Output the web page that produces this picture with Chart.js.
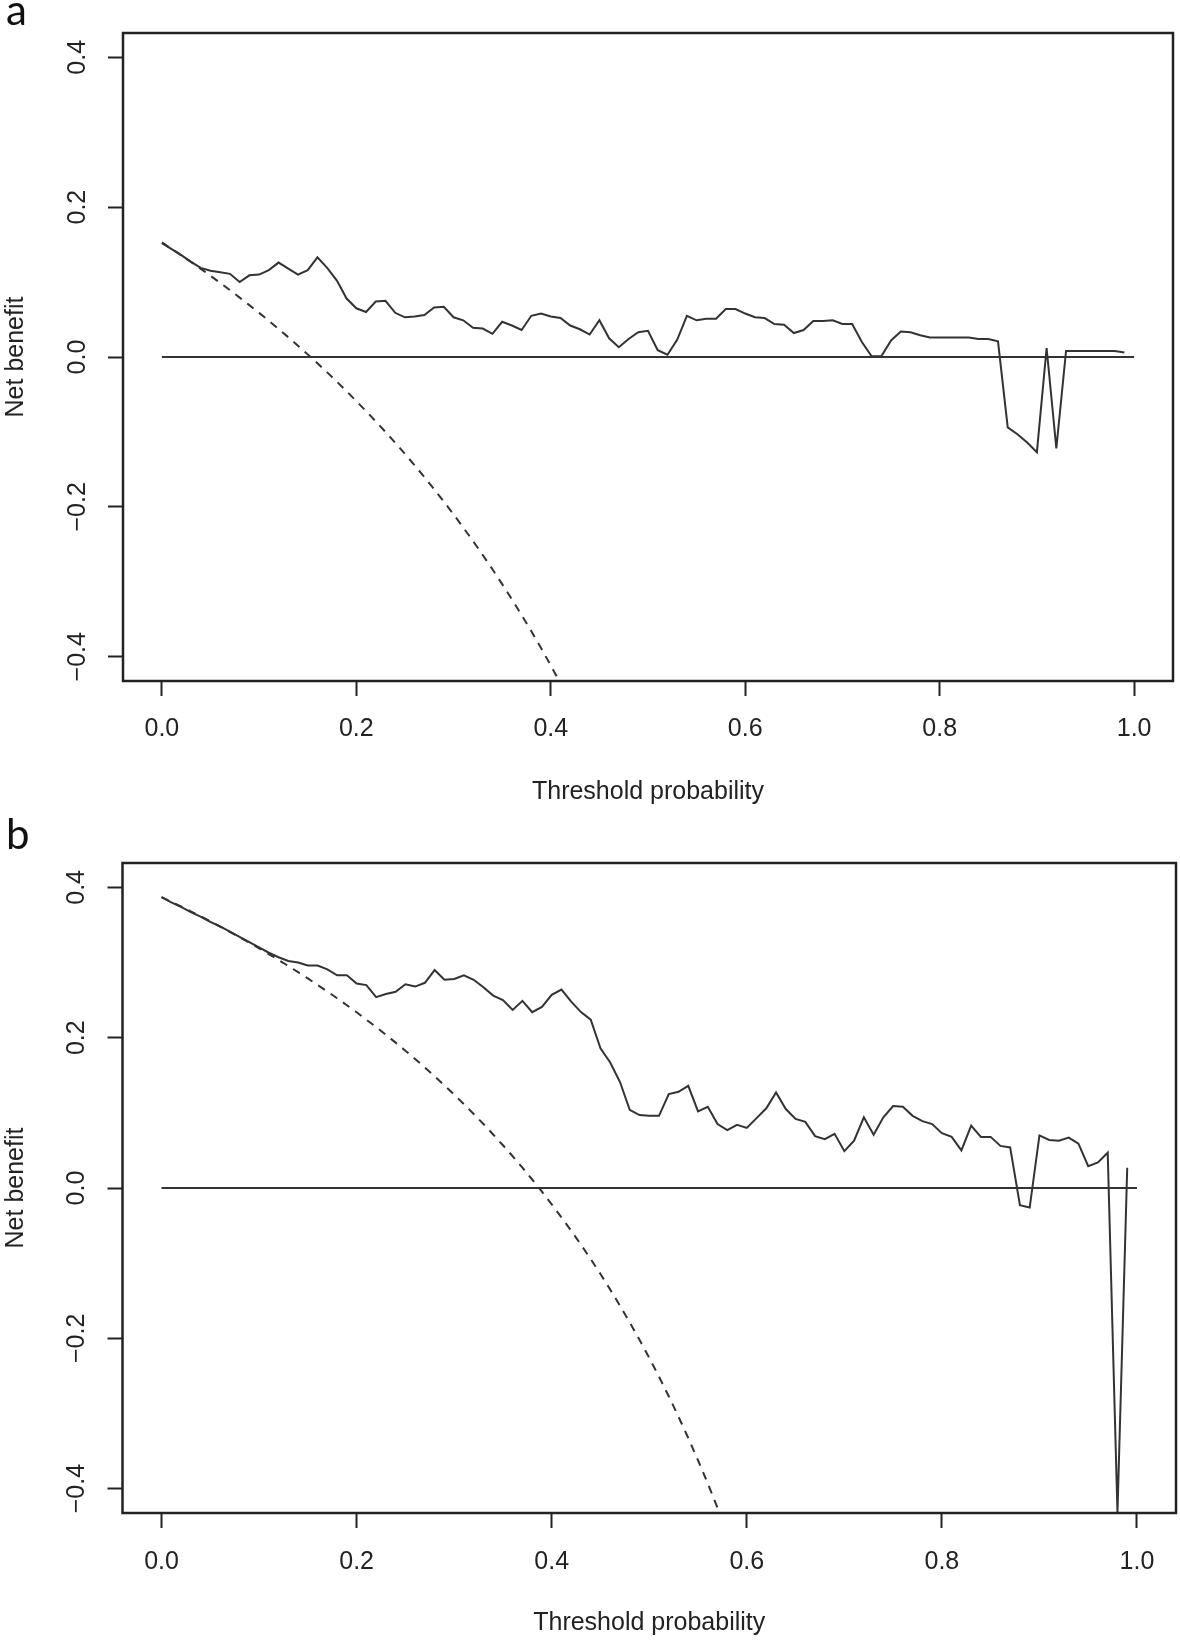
<!DOCTYPE html>
<html>
<head>
<meta charset="utf-8">
<script src="https://cdn.jsdelivr.net/npm/chart.js@4.4.1/dist/chart.umd.min.js"></script>
<style>
  html, body { margin: 0; padding: 0; background: #fff; }
  body { width: 1180px; height: 1641px; position: relative; overflow: hidden; }
  .panel { position: absolute; left: 0; }
  .tag { position: absolute; left: 6px; font-family: Lato, "Open Sans", sans-serif; font-size: 42px; line-height: 42px; color: #111; z-index: 2; }
</style>
</head>
<body>
<div class="tag" style="top:-12px">a</div>
<div class="tag" style="top:812px">b</div>
<canvas id="chartA" class="panel" style="top:0" width="1180" height="820"></canvas>
<canvas id="chartB" class="panel" style="top:830px" width="1180" height="811"></canvas>
<script>
// threshold probabilities (x) used by the model curves
const thresholds = [
  0.00,0.01,0.02,0.03,0.04,0.05,0.06,0.07,0.08,0.09,
  0.10,0.11,0.12,0.13,0.14,0.15,0.16,0.17,0.18,0.19,
  0.20,0.21,0.22,0.23,0.24,0.25,0.26,0.27,0.28,0.29,
  0.30,0.31,0.32,0.33,0.34,0.35,0.36,0.37,0.38,0.39,
  0.40,0.41,0.42,0.43,0.44,0.45,0.46,0.47,0.48,0.49,
  0.50,0.51,0.52,0.53,0.54,0.55,0.56,0.57,0.58,0.59,
  0.60,0.61,0.62,0.63,0.64,0.65,0.66,0.67,0.68,0.69,
  0.70,0.71,0.72,0.73,0.74,0.75,0.76,0.77,0.78,0.79,
  0.80,0.81,0.82,0.83,0.84,0.85,0.86,0.87,0.88,0.89,
  0.90,0.91,0.92,0.93,0.94,0.95,0.96,0.97,0.98,0.99
];

// panel a - model net benefit
const modelA = [
  0.152,0.144,0.136,0.127,0.119,0.115,0.113,0.111,0.100,0.109,
  0.110,0.116,0.126,0.118,0.110,0.116,0.133,0.119,0.102,0.078,
  0.065,0.060,0.074,0.075,0.059,0.053,0.054,0.056,0.066,0.067,
  0.053,0.049,0.039,0.038,0.031,0.047,0.042,0.036,0.055,0.058,
  0.054,0.052,0.042,0.037,0.030,0.049,0.025,0.013,0.024,0.033,
  0.035,0.009,0.003,0.023,0.055,0.049,0.051,0.051,0.064,0.064,
  0.058,0.053,0.052,0.044,0.043,0.032,0.036,0.048,0.048,0.049,
  0.044,0.044,0.020,0.001,0.001,0.022,0.034,0.033,0.029,0.026,
  0.026,0.026,0.026,0.026,0.024,0.024,0.021,-0.094,-0.103,-0.114,
  -0.127,0.012,-0.122,0.008,0.008,0.008,0.008,0.008,0.008,0.006
];
// panel a - treat all (dashed), thresholds 0.00 .. 0.41
const allA = [
  0.153,0.1444,0.1357,0.1268,0.1177,0.1084,0.0989,0.0892,0.0793,0.0692,
  0.0589,0.0483,0.0375,0.0264,0.0151,0.0035,-0.0083,-0.0205,-0.0329,-0.0457,
  -0.0588,-0.0722,-0.0859,-0.1000,-0.1145,-0.1293,-0.1446,-0.1603,-0.1764,-0.1930,
  -0.2100,-0.2275,-0.2456,-0.2642,-0.2833,-0.3031,-0.3234,-0.3444,-0.3661,-0.3885,
  -0.4117,-0.4356
];

// panel b - model net benefit
const modelB = [
  0.387,0.380,0.374,0.367,0.361,0.354,0.348,0.341,0.334,0.327,
  0.320,0.313,0.307,0.302,0.300,0.296,0.296,0.291,0.283,0.283,
  0.272,0.270,0.254,0.258,0.261,0.271,0.268,0.273,0.290,0.277,
  0.278,0.283,0.277,0.267,0.256,0.250,0.237,0.249,0.234,0.241,
  0.257,0.264,0.248,0.234,0.224,0.186,0.167,0.141,0.104,0.097,
  0.096,0.096,0.125,0.128,0.136,0.102,0.108,0.085,0.077,0.084,
  0.080,0.093,0.106,0.127,0.105,0.092,0.088,0.069,0.065,0.072,
  0.049,0.063,0.094,0.071,0.094,0.109,0.108,0.096,0.089,0.085,
  0.073,0.068,0.050,0.083,0.068,0.068,0.056,0.054,-0.023,-0.026,
  0.070,0.064,0.063,0.067,0.059,0.029,0.034,0.047,-0.432,0.027
];
// panel b - treat all (dashed), thresholds 0.00 .. 0.58
const allB = [
  0.387,0.3808,0.3745,0.3680,0.3615,0.3547,0.3479,0.3409,0.3337,0.3264,
  0.3189,0.3112,0.3034,0.2954,0.2872,0.2788,0.2702,0.2614,0.2524,0.2432,
  0.2338,0.2240,0.2141,0.2039,0.1934,0.1827,0.1716,0.1603,0.1486,0.1366,
  0.1243,0.1116,0.0985,0.0851,0.0712,0.0569,0.0422,0.0270,0.0113,-0.0049,
  -0.0217,-0.0390,-0.0569,-0.0754,-0.0946,-0.1145,-0.1352,-0.1566,-0.1788,-0.2020,
  -0.2260,-0.2510,-0.2771,-0.3043,-0.3326,-0.3622,-0.3932,-0.4256,-0.4595
];

// treat none
const noneX = [0, 1];
const noneY = [0, 0];

const xTicks = [0, 0.2, 0.4, 0.6, 0.8, 1.0];
const yTicks = [-0.4, -0.2, 0, 0.2, 0.4];

const ink = '#222';
const fontFamily = '"Liberation Sans", Arial, Helvetica, sans-serif';
Chart.defaults.font.family = fontFamily;
Chart.defaults.font.size = 25;
Chart.defaults.color = ink;

function pts(xs, ys) {
    return ys.map((y, i) => ({x: xs[i], y: y}));
}

// plot box + rotated y tick labels (R style)
const rFrame = {
    id: 'rFrame',
    afterDraw(chart) {
        const {ctx, chartArea: a} = chart;
        const ys = chart.scales.y;
        ctx.save();
        ctx.strokeStyle = ink;
        ctx.lineWidth = 2.5;
        ctx.strokeRect(a.left, a.top, a.right - a.left, a.bottom - a.top);
        ctx.fillStyle = ink;
        ctx.font = '25px ' + fontFamily;
        ctx.textAlign = 'center';
        ctx.textBaseline = 'middle';
        yTicks.forEach(v => {
            ctx.save();
            ctx.translate(a.left - 45, ys.getPixelForValue(v));
            ctx.rotate(-Math.PI / 2);
            ctx.fillText(v.toFixed(1).replace('-', '\u2212'), 0, 0);
            ctx.restore();
        });
        ctx.restore();
    }
};

function makeChart(id, model, all, lay) {
    let ctx = document.getElementById(id).getContext('2d');
    return new Chart(ctx, {
        type: 'line',
        data: {
            datasets: [{
                data: pts(thresholds, model),
                borderColor: '#333',
                borderWidth: 2
            }, {
                data: pts(thresholds, all),
                borderColor: '#333',
                borderWidth: 2,
                borderDash: [8, 7]
            }, {
                data: pts(noneX, noneY),
                borderColor: '#333',
                borderWidth: 2
            }]
        },
        options: {
            responsive: false,
            animation: false,
            devicePixelRatio: 1,
            layout: {padding: {top: lay.top, right: lay.right, left: 0, bottom: 0}},
            elements: {point: {radius: 0}, line: {tension: 0}},
            plugins: {legend: {display: false}, tooltip: {enabled: false}},
            scales: {
                x: {
                    type: 'linear',
                    min: -0.04,
                    max: 1.04,
                    afterBuildTicks: s => { s.ticks = xTicks.map(v => ({value: v})); },
                    afterFit: s => { s.height = lay.xh; },
                    grid: {drawOnChartArea: false, tickLength: 15, tickWidth: 2, tickColor: ink},
                    border: {display: false},
                    ticks: {padding: lay.tickPad, maxRotation: 0, autoSkip: false, callback: v => v.toFixed(1)},
                    title: {display: true, text: 'Threshold probability', padding: {top: 0, bottom: lay.titlePad}}
                },
                y: {
                    min: -0.4324,
                    max: 0.4324,
                    afterBuildTicks: s => { s.ticks = yTicks.map(v => ({value: v})); },
                    afterFit: s => { s.width = lay.yw; },
                    grid: {drawOnChartArea: false, tickLength: 15, tickWidth: 2, tickColor: ink},
                    border: {display: false},
                    ticks: {display: false},
                    title: {display: true, text: 'Net benefit', padding: {top: 1, bottom: 0}}
                }
            }
        },
        plugins: [rFrame]
    });
}

let chartA = makeChart('chartA', modelA, allA, {top: 33, right: 7, xh: 139, yw: 123, tickPad: 18, titlePad: 13});
let chartB = makeChart('chartB', modelB, allB, {top: 33, right: 4, xh: 128, yw: 122.5, tickPad: 19, titlePad: 3});
</script>
</body>
</html>
